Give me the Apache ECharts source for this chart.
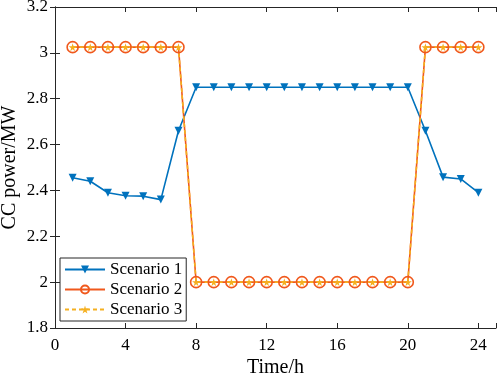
<!DOCTYPE html>
<html>
<head>
<meta charset="utf-8">
<script src="https://cdn.jsdelivr.net/npm/echarts@6/dist/echarts.min.js"></script>
<style>
html, body { margin: 0; padding: 0; background: #fff; }
#chart { width: 498px; height: 378px; }
</style>
</head>
<body>
<div id="chart"></div>
<script>
// hours 1..24
var hours = [1,2,3,4,5,6,7,8,9,10,11,12,13,14,15,16,17,18,19,20,21,22,23,24];
var scenario1 = [2.455,2.44,2.39,2.377,2.375,2.36,2.66,2.85,2.85,2.85,2.85,2.85,2.85,2.85,2.85,2.85,2.85,2.85,2.85,2.85,2.66,2.458,2.45,2.39];
var scenario2 = [3.025,3.025,3.025,3.025,3.025,3.025,3.025,2,2,2,2,2,2,2,2,2,2,2,2,2,3.025,3.025,3.025,3.025];
var scenario3 = [3.025,3.025,3.025,3.025,3.025,3.025,3.025,2,2,2,2,2,2,2,2,2,2,2,2,2,3.025,3.025,3.025,3.025];
var xTicks = [0,4,8,12,16,20,24];
var yTicks = [1.8,2,2.2,2.4,2.6,2.8,3,3.2];

var font = 'Liberation Serif';
var star = 'path://M50,0 L61,35 L98,35 L68,57 L79,91 L50,70 L21,91 L32,57 L2,35 L39,35 Z';

function pairs(vals) {
    return hours.map(function (h, i) { return [h, vals[i]]; });
}

var myChart = echarts.init(document.getElementById('chart'));

var option = {
    animation: false,
    grid: { left: 55, right: 2, top: 7, bottom: 50, containLabel: false, outerBoundsMode: 'none' },
    textStyle: { fontFamily: font },
    xAxis: [{
        type: 'value', min: 0, max: 25, interval: 4,
        name: 'Time/h', nameLocation: 'middle', nameGap: 30, nameMoveOverlap: false,
        nameTextStyle: { fontFamily: font, fontSize: 20, color: '#000' },
        axisLine: { lineStyle: { color: '#262626', width: 1 } },
        axisTick: { inside: true, length: 5, lineStyle: { color: '#262626' } },
        axisLabel: {
            fontFamily: font, fontSize: 17, color: '#000', margin: 9,
            formatter: function (v) { return xTicks.indexOf(v) >= 0 ? v : ''; }
        },
        splitLine: { show: false }
    }, {
        type: 'value', min: 0, max: 25, interval: 4, position: 'top',
        axisLine: { lineStyle: { color: '#262626', width: 1 } },
        axisTick: { inside: true, length: 5, lineStyle: { color: '#262626' } },
        axisLabel: { show: false },
        splitLine: { show: false }
    }],
    yAxis: [{
        type: 'value', min: 1.8, max: 3.2, interval: 0.2,
        name: 'CC power/MW', nameLocation: 'middle', nameGap: 35, nameMoveOverlap: false,
        nameTextStyle: { fontFamily: font, fontSize: 20, color: '#000' },
        axisLine: { show: true, lineStyle: { color: '#262626', width: 1 } },
        axisTick: { inside: true, length: 5, lineStyle: { color: '#262626' } },
        axisLabel: {
            fontFamily: font, fontSize: 17, color: '#000', margin: 7,
            formatter: function (v) { return String(Math.round(v * 10) / 10); }
        },
        splitLine: { show: false }
    }, {
        type: 'value', min: 1.8, max: 3.2, interval: 0.2, position: 'right',
        axisLine: { show: true, lineStyle: { color: '#262626', width: 1 } },
        axisTick: { inside: true, length: 5, lineStyle: { color: '#262626' } },
        axisLabel: { show: false },
        splitLine: { show: false }
    }],
    legend: {
        orient: 'vertical', left: 60, top: 258,
        itemWidth: 40, itemHeight: 10, itemGap: 3,
        padding: [3, 4, 3, 4],
        backgroundColor: '#fff', borderColor: '#262626', borderWidth: 1, borderRadius: 0,
        textStyle: { fontFamily: font, fontSize: 17, color: '#000' },
        data: ['Scenario 1', 'Scenario 2', 'Scenario 3']
    },
    series: [{
        name: 'Scenario 1', type: 'line',
        data: pairs(scenario1),
        symbol: 'triangle', symbolRotate: 180, symbolSize: 8,
        lineStyle: { color: '#0072BD', width: 1.6 },
        itemStyle: { color: '#0072BD' }
    }, {
        name: 'Scenario 2', type: 'line',
        data: pairs(scenario2),
        symbol: 'circle', symbolSize: 11,
        lineStyle: { color: '#F0581C', width: 1.6 },
        itemStyle: { color: 'rgba(255,255,255,0)', borderColor: '#F0581C', borderWidth: 1.6 }
    }, {
        name: 'Scenario 3', type: 'line',
        data: pairs(scenario3),
        symbol: star, symbolSize: 8,
        lineStyle: { color: '#F5B020', width: 1.6, type: [4, 3] },
        itemStyle: { color: '#F5B020' }
    }]
};

myChart.setOption(option);
window.onresize = myChart.resize;
</script>
</body>
</html>
